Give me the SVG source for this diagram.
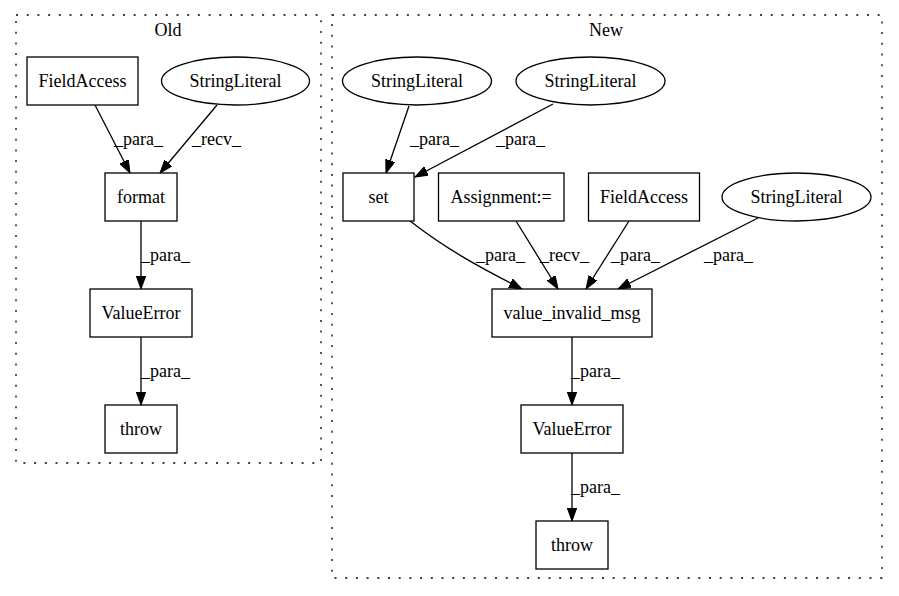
<svg xmlns="http://www.w3.org/2000/svg" width="899" height="596" viewBox="0 0 899 596">
<style>
text{font-family:"Liberation Serif","Times New Roman",serif;font-size:18px;fill:#000}
.c{text-anchor:middle}
.n{fill:#fff;stroke:#000;stroke-width:1.3}
.cl{fill:none;stroke:#000;stroke-width:1.3;stroke-dasharray:2,8.7}
.e{fill:none;stroke:#000;stroke-width:1.3;marker-end:url(#ah)}
</style>
<defs>
<marker id="ah" markerWidth="14" markerHeight="10" refX="13" refY="4.7" orient="auto" markerUnits="userSpaceOnUse">
<polygon points="0,0 13,4.7 0,9.4" fill="#000" stroke="#000" stroke-width="1"/>
</marker>
</defs>
<rect width="899" height="596" fill="#fff"/>
<g id="cluster_old">
<rect class="cl" x="16" y="15" width="305" height="448"/>
<text class="c" x="168" y="36">Old</text>
</g>
<g id="cluster_new">
<rect class="cl" x="332" y="15" width="550" height="563"/>
<text class="c" x="606" y="36">New</text>
</g>
<g id="edges">
<path class="e" d="M95,105 L130,173"/>
<text x="114" y="145">_para_</text>
<path class="e" d="M217,105 L160,173"/>
<text x="192" y="145">_recv_</text>
<path class="e" d="M141,221 L141,289"/>
<text x="141" y="261">_para_</text>
<path class="e" d="M141,337 L141,405"/>
<text x="141" y="377">_para_</text>
<path class="e" d="M409,106 L386,173"/>
<text x="410" y="145">_para_</text>
<path class="e" d="M553,104 L415,177"/>
<text x="496" y="145">_para_</text>
<path class="e" d="M410,221 C445,248 475,265 522,289"/>
<text x="476" y="261">_para_</text>
<path class="e" d="M516,221 L558,289"/>
<text x="540" y="261">_recv_</text>
<path class="e" d="M629,221 L586,289"/>
<text x="611" y="261">_para_</text>
<path class="e" d="M758,218 L618,289"/>
<text x="704" y="261">_para_</text>
<path class="e" d="M572,337 L572,405"/>
<text x="571" y="377">_para_</text>
<path class="e" d="M572,453 L572,521"/>
<text x="571" y="493">_para_</text>
</g>
<g id="old_fieldaccess">
<rect class="n" x="27" y="57" width="111" height="48"/>
<text class="c" x="82.5" y="87">FieldAccess</text>
</g>
<g id="old_stringliteral">
<ellipse class="n" cx="235.5" cy="81" rx="74" ry="24"/>
<text class="c" x="235.5" y="87">StringLiteral</text>
</g>
<g id="old_format">
<rect class="n" x="105" y="173" width="72" height="48"/>
<text class="c" x="141" y="203">format</text>
</g>
<g id="old_valueerror">
<rect class="n" x="90" y="289" width="102" height="48"/>
<text class="c" x="141" y="319">ValueError</text>
</g>
<g id="old_throw">
<rect class="n" x="105" y="405" width="72" height="48"/>
<text class="c" x="141" y="435">throw</text>
</g>
<g id="new_stringliteral1">
<ellipse class="n" cx="417" cy="81" rx="74.5" ry="24"/>
<text class="c" x="417" y="87">StringLiteral</text>
</g>
<g id="new_stringliteral2">
<ellipse class="n" cx="590.5" cy="81" rx="74.5" ry="24"/>
<text class="c" x="590.5" y="87">StringLiteral</text>
</g>
<g id="new_set">
<rect class="n" x="343" y="173" width="71" height="48"/>
<text class="c" x="378.5" y="203">set</text>
</g>
<g id="new_assignment">
<rect class="n" x="438.5" y="173" width="125.5" height="48"/>
<text class="c" x="501" y="203">Assignment:=</text>
</g>
<g id="new_fieldaccess">
<rect class="n" x="588.5" y="173" width="111" height="48"/>
<text class="c" x="644" y="203">FieldAccess</text>
</g>
<g id="new_stringliteral3">
<ellipse class="n" cx="796.5" cy="197" rx="74.5" ry="24"/>
<text class="c" x="796.5" y="203">StringLiteral</text>
</g>
<g id="new_value_invalid_msg">
<rect class="n" x="492" y="289" width="160" height="48"/>
<text class="c" x="572" y="319">value_invalid_msg</text>
</g>
<g id="new_valueerror">
<rect class="n" x="521" y="405" width="102" height="48"/>
<text class="c" x="572" y="435">ValueError</text>
</g>
<g id="new_throw">
<rect class="n" x="536" y="521" width="72" height="48"/>
<text class="c" x="572" y="551">throw</text>
</g>
</svg>
